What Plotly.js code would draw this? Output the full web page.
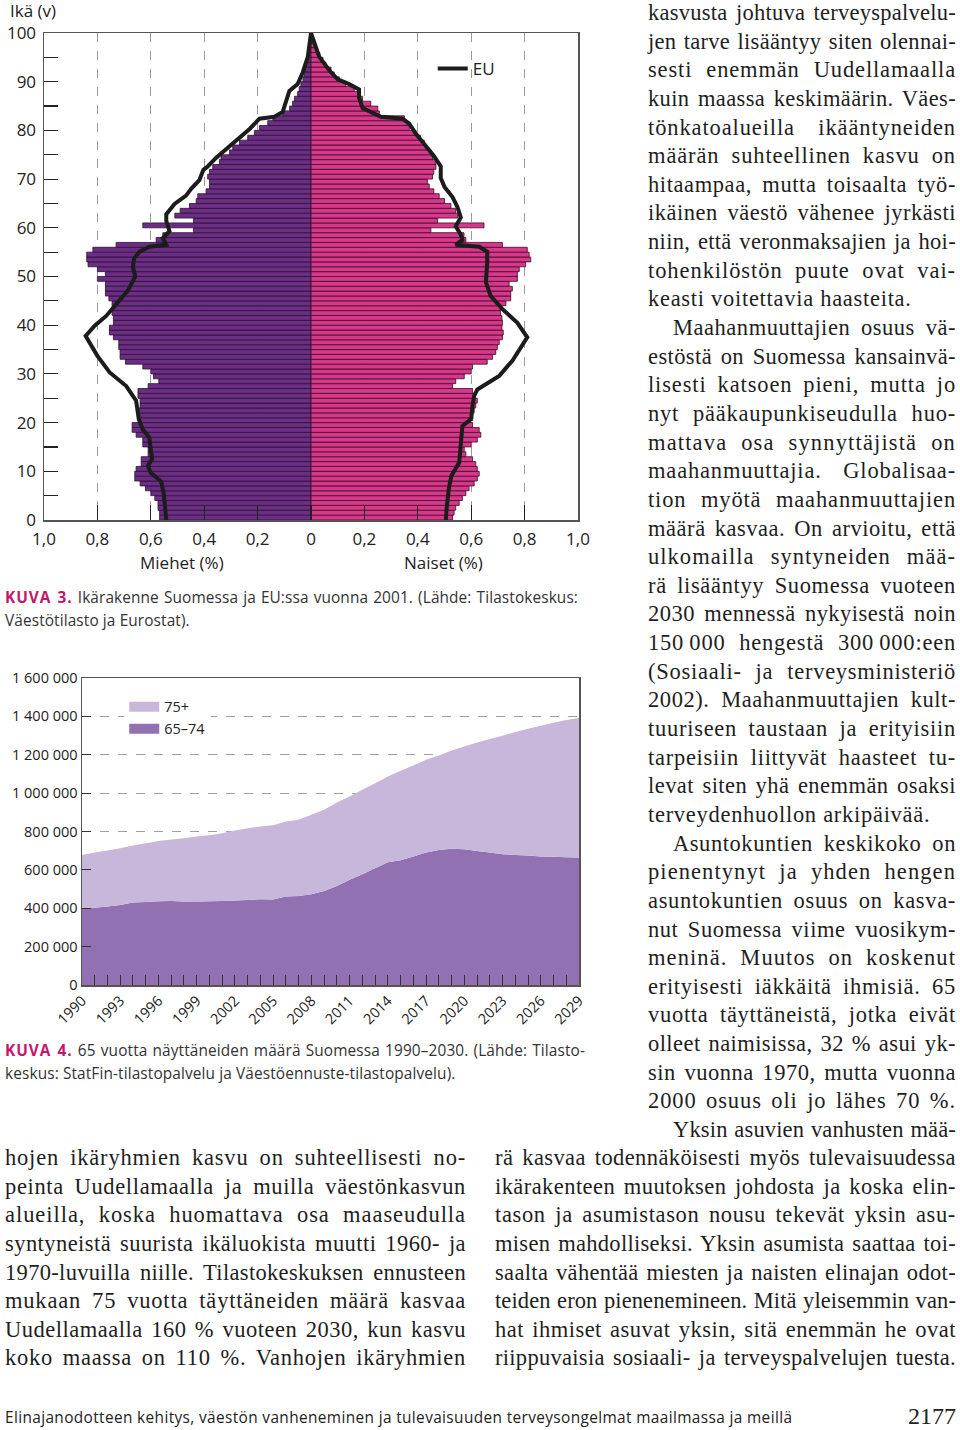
<!DOCTYPE html>
<html>
<head>
<meta charset="utf-8">
<script src="https://cdn.plot.ly/plotly-3.0.1.min.js"></script>
<style>
  html, body { margin:0; padding:0; background:#fff; }
  #page { position:relative; width:960px; height:1430px; overflow:hidden; background:#fff; }
  #pyr { position:absolute; left:0; top:0; width:600px; height:580px; }
  #area { position:absolute; left:0; top:640px; width:600px; height:400px; }
  .col { position:absolute; font-family:"Liberation Serif", serif; font-size:22.5px; color:#1e1e1e; }
  .ln { height:28.65px; line-height:28.65px; white-space:nowrap; text-align:justify; text-align-last:justify; }
  .ln.l { text-align:left; text-align-last:left; }
  .ln.ind { padding-left:25px; }
  .cap { position:absolute; font-family:"Open Sans", sans-serif; font-size:15.4px; color:#333; }
  .cap .ln { height:23px; line-height:23px; }
  .kuva { color:#c2176d; font-weight:bold; letter-spacing:1px; }
  .foot { position:absolute; left:5px; top:1406px; width:787px; font-family:"Open Sans", sans-serif; font-size:15.4px; color:#222; }
  .foot .ln { height:24px; line-height:24px; text-align:left; text-align-last:left; }
  .pg { position:absolute; right:4px; top:1403px; font-family:"Liberation Serif", serif; font-size:24px; color:#222; }
</style>
</head>
<body>
<div id="page">
  <div id="pyr"></div>
  <div id="area"></div>

  <div class="cap" style="left:5px; top:586px; width:573px;">
    <div class="ln"><span class="kuva">KUVA 3.</span> Ikärakenne Suomessa ja EU:ssa vuonna 2001. (Lähde: Tilastokeskus:</div>
    <div class="ln l">Väestötilasto ja Eurostat).</div>
  </div>
  <div class="cap" style="left:5px; top:1039px; width:580px;">
    <div class="ln"><span class="kuva">KUVA 4.</span> 65 vuotta näyttäneiden määrä Suomessa 1990–2030. (Lähde: Tilasto-</div>
    <div class="ln l">keskus: StatFin-tilastopalvelu ja Väestöennuste-tilastopalvelu).</div>
  </div>

  <div class="col" style="left:648px; top:-1px; width:308px;">
    <div class="ln">kasvusta johtuva terveyspalvelu-</div>
    <div class="ln">jen tarve lisääntyy siten olennai-</div>
    <div class="ln">sesti enemmän Uudellamaalla</div>
    <div class="ln">kuin maassa keskimäärin. Väes-</div>
    <div class="ln">tönkatoalueilla ikääntyneiden</div>
    <div class="ln">määrän suhteellinen kasvu on</div>
    <div class="ln">hitaampaa, mutta toisaalta työ-</div>
    <div class="ln">ikäinen väestö vähenee jyrkästi</div>
    <div class="ln">niin, että veronmaksajien ja hoi-</div>
    <div class="ln">tohenkilöstön puute ovat vai-</div>
    <div class="ln l">keasti voitettavia haasteita.</div>
    <div class="ln ind">Maahanmuuttajien osuus vä-</div>
    <div class="ln">estöstä on Suomessa kansainvä-</div>
    <div class="ln">lisesti katsoen pieni, mutta jo</div>
    <div class="ln">nyt pääkaupunkiseudulla huo-</div>
    <div class="ln">mattava osa synnyttäjistä on</div>
    <div class="ln">maahanmuuttajia. Globalisaa-</div>
    <div class="ln">tion myötä maahanmuuttajien</div>
    <div class="ln">määrä kasvaa. On arvioitu, että</div>
    <div class="ln">ulkomailla syntyneiden mää-</div>
    <div class="ln">rä lisääntyy Suomessa vuoteen</div>
    <div class="ln">2030 mennessä nykyisestä noin</div>
    <div class="ln">150&#8201;000 hengestä 300&#8201;000:een</div>
    <div class="ln">(Sosiaali- ja terveysministeriö</div>
    <div class="ln">2002). Maahanmuuttajien kult-</div>
    <div class="ln">tuuriseen taustaan ja erityisiin</div>
    <div class="ln">tarpeisiin liittyvät haasteet tu-</div>
    <div class="ln">levat siten yhä enemmän osaksi</div>
    <div class="ln l">terveydenhuollon arkipäivää.</div>
    <div class="ln ind">Asuntokuntien keskikoko on</div>
    <div class="ln">pienentynyt ja yhden hengen</div>
    <div class="ln">asuntokuntien osuus on kasva-</div>
    <div class="ln">nut Suomessa viime vuosikym-</div>
    <div class="ln">meninä. Muutos on koskenut</div>
    <div class="ln">erityisesti iäkkäitä ihmisiä. 65</div>
    <div class="ln">vuotta täyttäneistä, jotka eivät</div>
    <div class="ln">olleet naimisissa, 32 % asui yk-</div>
    <div class="ln">sin vuonna 1970, mutta vuonna</div>
    <div class="ln">2000 osuus oli jo lähes 70 %.</div>
    <div class="ln ind">Yksin asuvien vanhusten mää-</div>
  </div>

  <div class="col" style="left:5px; top:1144px; width:461px;">
    <div class="ln">hojen ikäryhmien kasvu on suhteellisesti no-</div>
    <div class="ln">peinta Uudellamaalla ja muilla väestönkasvun</div>
    <div class="ln">alueilla, koska huomattava osa maaseudulla</div>
    <div class="ln">syntyneistä suurista ikäluokista muutti 1960- ja</div>
    <div class="ln">1970-luvuilla niille. Tilastokeskuksen ennusteen</div>
    <div class="ln">mukaan 75 vuotta täyttäneiden määrä kasvaa</div>
    <div class="ln">Uudellamaalla 160 % vuoteen 2030, kun kasvu</div>
    <div class="ln">koko maassa on 110 %. Vanhojen ikäryhmien</div>
  </div>

  <div class="col" style="left:495px; top:1144px; width:461px;">
    <div class="ln">rä kasvaa todennäköisesti myös tulevaisuudessa</div>
    <div class="ln">ikärakenteen muutoksen johdosta ja koska elin-</div>
    <div class="ln">tason ja asumistason nousu tekevät yksin asu-</div>
    <div class="ln">misen mahdolliseksi. Yksin asumista saattaa toi-</div>
    <div class="ln">saalta vähentää miesten ja naisten elinajan odot-</div>
    <div class="ln">teiden eron pienenemineen. Mitä yleisemmin van-</div>
    <div class="ln">hat ihmiset asuvat yksin, sitä enemmän he ovat</div>
    <div class="ln">riippuvaisia sosiaali- ja terveyspalvelujen tuesta.</div>
  </div>

  <div class="foot"><div class="ln fit">Elinajanodotteen kehitys, väestön vanheneminen ja tulevaisuuden terveysongelmat maailmassa ja meillä</div></div>
  <div class="pg">2177</div>
</div>

<script>
// ---------- KUVA 3: population pyramid (share of population, %) ----------
const ages = [0,1,2,3,4,5,6,7,8,9,10,11,12,13,14,15,16,17,18,19,20,21,22,23,24,25,26,27,28,29,
  30,31,32,33,34,35,36,37,38,39,40,41,42,43,44,45,46,47,48,49,50,51,52,53,54,55,56,57,58,59,
  60,61,62,63,64,65,66,67,68,69,70,71,72,73,74,75,76,77,78,79,80,81,82,83,84,85,86,87,88,89,
  90,91,92,93,94,95,96,97,98,99];

const finlandMen = [0.567,0.567,0.573,0.573,0.585,0.600,0.620,0.640,0.660,0.660,
  0.655,0.636,0.636,0.610,0.610,0.630,0.630,0.655,0.670,0.670,
  0.640,0.640,0.645,0.640,0.640,0.648,0.648,0.610,0.570,0.590,
  0.600,0.630,0.695,0.715,0.715,0.720,0.720,0.740,0.755,0.755,
  0.740,0.740,0.745,0.745,0.745,0.757,0.770,0.770,0.770,0.800,
  0.770,0.800,0.835,0.840,0.840,0.817,0.730,0.580,0.555,0.440,
  0.630,0.440,0.510,0.490,0.455,0.430,0.424,0.393,0.380,0.380,
  0.387,0.380,0.368,0.343,0.337,0.305,0.293,0.268,0.237,0.212,
  0.193,0.162,0.143,0.106,0.080,0.069,0.062,0.050,0.044,0.038,
  0.030,0.025,0.021,0.017,0.014,0.011,0.008,0.006,0.004,0.002];

const finlandWomen = [0.530,0.536,0.542,0.555,0.567,0.580,0.592,0.611,0.623,0.630,
  0.623,0.617,0.605,0.580,0.574,0.600,0.623,0.636,0.630,0.605,
  0.592,0.602,0.611,0.617,0.623,0.611,0.605,0.530,0.542,0.574,
  0.600,0.605,0.660,0.680,0.692,0.698,0.705,0.717,0.720,0.715,
  0.717,0.715,0.710,0.710,0.730,0.748,0.748,0.754,0.742,0.773,
  0.773,0.780,0.804,0.823,0.817,0.810,0.717,0.580,0.573,0.449,
  0.648,0.474,0.550,0.542,0.524,0.500,0.480,0.460,0.443,0.436,
  0.455,0.460,0.468,0.468,0.455,0.450,0.430,0.424,0.410,0.393,
  0.368,0.360,0.350,0.256,0.250,0.224,0.193,0.175,0.162,0.130,
  0.106,0.087,0.075,0.056,0.045,0.033,0.024,0.016,0.010,0.005];

// EU profile line (age, share)
const euMenAges = [0,5.2,7.9,9.7,11.1,12.5,15.2,16.9,18.6,20.7,24.5,27.5,30.3,33.7,37.8,39.9,41.9,45,47.1,50,
  51.9,53.7,55.1,56.1,56.5,57.9,59.3,61.4,62.8,64.9,66.6,68,69.8,71.9,72.6,74.4,76.8,77.9,80.3,82.4,82.8,83.8,85.6,88.1,89.5,91.9,95.1,100];
const euMen = [0.542,0.551,0.561,0.600,0.611,0.595,0.602,0.605,0.630,0.645,0.655,0.692,0.754,0.800,0.844,0.810,0.767,0.717,0.686,0.658,
  0.667,0.663,0.642,0.605,0.542,0.555,0.530,0.542,0.542,0.511,0.468,0.449,0.418,0.403,0.387,0.355,0.305,0.280,0.230,0.193,0.137,0.106,0.094,0.081,0.050,0.031,0.012,0.0];

const euWomenAges = [0,3,6.7,9.1,11.8,15.9,19.3,20.7,23.4,25.5,26.8,29.6,32.7,37.5,40.5,43.3,46,48.8,
  50.1,52.9,55.1,56.1,56.5,57.5,58.6,60.3,62.1,64.2,66.3,68.4,70.2,72.6,74.7,76.8,79.3,81.4,82.4,82.8,84.6,86.7,88.4,89.5,90.5,92.3,95.1,100];
const euWomen = [0.505,0.509,0.517,0.526,0.555,0.561,0.567,0.600,0.605,0.611,0.623,0.705,0.754,0.810,0.773,0.717,0.673,0.655,
  0.655,0.660,0.660,0.630,0.542,0.567,0.561,0.542,0.561,0.549,0.530,0.500,0.486,0.486,0.461,0.430,0.393,0.368,0.343,0.262,0.193,0.180,0.180,0.143,0.100,0.069,0.031,0.0];

const pyrTickVals = [-1,-0.8,-0.6,-0.4,-0.2,0,0.2,0.4,0.6,0.8,1];
const pyrTickText = ['1,0','0,8','0,6','0,4','0,2','0','0,2','0,4','0,6','0,8','1,0'];
const ageTicks = [0,10,20,30,40,50,60,70,80,90,100];

// EU line: men side (mirrored to negative) up to the tip, then women side down
const euX = euMen.map(v => -v).concat(euWomen.slice().reverse());
const euY = euMenAges.concat(euWomenAges.slice().reverse());

const FONT = '"Open Sans", sans-serif';

Plotly.newPlot('pyr', [
  { type:'bar', orientation:'h', y:ages, x:finlandMen.map(v => -v), base:0, width:1, offset:0,
    marker:{color:'#6b2e84', line:{color:'#2b1233', width:0.8}}, showlegend:false, hoverinfo:'skip' },
  { type:'bar', orientation:'h', y:ages, x:finlandWomen, base:0, width:1, offset:0,
    marker:{color:'#d8378b', line:{color:'#3a0f22', width:0.8}}, showlegend:false, hoverinfo:'skip' },
  { type:'scatter', mode:'lines', x:euX, y:euY, name:'EU',
    line:{color:'#1c1c1c', width:4}, hoverinfo:'skip' }
], {
  width:600, height:580,
  margin:{l:44, r:22, t:33, b:60},
  paper_bgcolor:'#fff', plot_bgcolor:'#fff',
  barmode:'overlay',
  font:{family:FONT, size:17, color:'#222'},
  xaxis:{ range:[-1,1], tickvals:pyrTickVals, ticktext:pyrTickText, ticks:'inside', ticklen:15,
    tickcolor:'#222', tickwidth:1.2, showgrid:true, gridcolor:'#9a9a9a', griddash:'dash', gridwidth:1,
    ticklabelstandoff:3,
    zeroline:false, showline:true, mirror:true, linecolor:'#555', linewidth:1.5, fixedrange:true },
  yaxis:{ range:[0,100], tickvals:ageTicks, ticks:'inside', ticklen:14, tickcolor:'#222', tickwidth:1.2,
    ticklabelstandoff:3,
    minor:{dtick:5, tick0:5, ticks:'inside', ticklen:14, tickcolor:'#222', tickwidth:1.2, showgrid:false},
    showgrid:false, zeroline:false, showline:true, mirror:true, linecolor:'#555', linewidth:1.5, fixedrange:true },
  legend:{x:0.728, y:0.926, xanchor:'left', yanchor:'middle', bgcolor:'rgba(0,0,0,0)', font:{size:17}},
  annotations:[
    {text:'Ikä (v)', xref:'paper', yref:'paper', x:-0.068, y:1.047, xanchor:'left', yanchor:'middle', showarrow:false, font:{size:17}},
    {text:'Miehet (%)', xref:'paper', yref:'paper', x:0.258, y:-0.087, xanchor:'center', yanchor:'middle', showarrow:false, font:{size:17}},
    {text:'Naiset (%)', xref:'paper', yref:'paper', x:0.749, y:-0.087, xanchor:'center', yanchor:'middle', showarrow:false, font:{size:17}}
  ]
}, {staticPlot:true});

// ---------- KUVA 4: number aged 65+ in Finland 1990–2029 ----------
const years = [1990,1991,1992,1993,1994,1995,1996,1997,1998,1999,2000,2001,2002,2003,2004,2005,2006,2007,2008,2009,
  2010,2011,2012,2013,2014,2015,2016,2017,2018,2019,2020,2021,2022,2023,2024,2025,2026,2027,2028,2029];
const age65to74 = [400000,403000,409000,417000,430000,433000,436000,438000,435000,435000,
  436000,438000,440000,443000,447000,445000,461000,464000,473000,490000,
  516000,548000,577000,609000,640000,650000,670000,690000,704000,710000,
  708000,699000,690000,682000,678000,675000,670000,668000,666000,664000];
const age75plus = [278000,287000,292000,296000,297000,306000,315000,320000,330000,339000,
  345000,353000,365000,374000,379000,388000,391000,397000,414000,423000,
  435000,435000,440000,443000,447000,466000,474000,484000,492000,512000,
  535000,565000,592000,617000,640000,661000,681000,699000,715000,727000];
const yearLabels = [1990,1993,1996,1999,2002,2005,2008,2011,2014,2017,2020,2023,2026,2029];
const countTicks = [0,200000,400000,600000,800000,1000000,1200000,1400000,1600000];
const countTickText = ['0','200 000','400 000','600 000','800 000','1 000 000','1 200 000','1 400 000','1 600 000'];
const seriesNames = ['65–74','75+'];
const seriesColors = ['#9271b2','#c7b7db'];

Plotly.newPlot('area', [
  { type:'scatter', mode:'none', x:years, y:age65to74, name:seriesNames[0], stackgroup:'a',
    fillcolor:seriesColors[0], showlegend:false, hoverinfo:'skip' },
  { type:'scatter', mode:'none', x:years, y:age75plus, name:seriesNames[1], stackgroup:'a',
    fillcolor:seriesColors[1], showlegend:false, hoverinfo:'skip' },
  // legend keys only (no data points)
  { type:'scatter', mode:'lines', x:[null], y:[null], name:seriesNames[0], line:{color:seriesColors[0], width:11}, hoverinfo:'skip' },
  { type:'scatter', mode:'lines', x:[null], y:[null], name:seriesNames[1], line:{color:seriesColors[1], width:11}, hoverinfo:'skip' }
], {
  width:600, height:400,
  margin:{l:82, r:21, t:38, b:55},
  paper_bgcolor:'#fff', plot_bgcolor:'#fff',
  font:{family:FONT, size:14.5, color:'#222'},
  xaxis:{ range:[1990,2029], tickvals:yearLabels, tickangle:-45, ticks:'inside', ticklen:10, tickcolor:'#333',
    minor:{dtick:1, tick0:1990, ticks:'inside', ticklen:10, tickcolor:'#333', showgrid:false},
    showgrid:false, zeroline:false, showline:true, mirror:true, linecolor:'#555', linewidth:1.5, fixedrange:true },
  yaxis:{ range:[0,1600000], tickvals:countTicks, ticktext:countTickText, ticks:'inside', ticklen:9, tickcolor:'#333',
    showgrid:true, gridcolor:'#a0a0a0', griddash:'dash', gridwidth:1,
    zeroline:false, showline:true, mirror:true, linecolor:'#555', linewidth:1.5, fixedrange:true },
  legend:{x:0.085, y:0.958, xanchor:'left', yanchor:'top', traceorder:'reversed', bgcolor:'#fff',
    font:{size:14.5}, tracegroupgap:0},
  showlegend:true
}, {staticPlot:true});

// ---------- fit justified text lines: spread part of the slack into letter spacing ----------
(function fitText(){
  const cv = document.createElement('canvas').getContext('2d');
  function natural(el){
    const cs = getComputedStyle(el);
    let w = 0;
    el.childNodes.forEach(n => {
      const host = n.nodeType === 1 ? n : el;
      const hs = getComputedStyle(host);
      cv.font = hs.fontWeight + ' ' + hs.fontSize + ' ' + hs.fontFamily;
      const t = n.textContent;
      const extra = n.nodeType === 1 ? (parseFloat(hs.letterSpacing) || 0) * t.length : 0;
      w += cv.measureText(t).width + extra;
    });
    return w;
  }
  function fitGroup(sel, share, maxLS, minLS){
    document.querySelectorAll(sel).forEach(box => {
      const lines = Array.from(box.querySelectorAll('.ln'));
      const ls = [];
      lines.forEach(el => {
        if (el.classList.contains('l')) return;
        const cs = getComputedStyle(el);
        const avail = el.clientWidth - parseFloat(cs.paddingLeft);
        const nat = natural(el);
        const n = el.textContent.length;
        let v = (avail - nat) * share / n;
        v = Math.max(minLS, Math.min(maxLS, v));
        el.style.letterSpacing = v.toFixed(2) + 'px';
        ls.push(v);
      });
      const med = ls.length ? ls.slice().sort((a,b)=>a-b)[Math.floor(ls.length/2)] : 0;
      lines.forEach(el => { if (el.classList.contains('l')) el.style.letterSpacing = Math.max(0, med).toFixed(2) + 'px'; });
    });
  }
  fitGroup('.col', 0.6, 1.4, -0.6);
  fitGroup('.cap', 0.5, 0.6, -0.6);
  document.querySelectorAll('.foot .ln').forEach(el => {
    const nat = natural(el);
    const v = (787 - nat) / el.textContent.length;
    el.style.letterSpacing = Math.max(-1, Math.min(1, v)).toFixed(2) + 'px';
  });
})();
</script>
</body>
</html>
